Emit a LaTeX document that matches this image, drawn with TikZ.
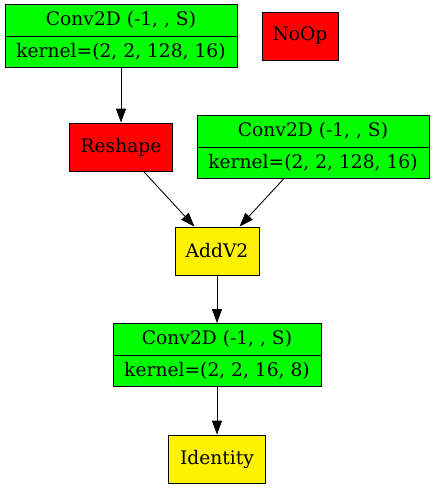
\documentclass[tikz,border=0pt]{standalone}
\usepackage{fontspec}
\setmainfont{DejaVu Serif}
\usetikzlibrary{arrows.meta,shapes.multipart}

\begin{document}
\begin{tikzpicture}[x=0.75pt,y=-0.75pt,>={Triangle[length=10.5pt,width=7.5pt]}]
    \tikzstyle{op}=[draw,rectangle,line width=0.65pt,minimum height=36pt,font=\fontsize{14}{17}\selectfont]
    \tikzstyle{rec}=[op,fill=green,rectangle split,rectangle split parts=2,minimum height=0pt,text height=10.5pt,text depth=3pt,inner ysep=4.9pt]
    \useasboundingbox (0,0) rectangle (435,489);

    \node[rec,minimum width=174pt] at (121,36) (conva) {Conv2D (-1, , S)\nodepart{two}kernel=(2, 2, 128, 16)};
    \node[op,fill=red,minimum width=57pt] at (300,36) (noop) {NoOp};
    \node[op,fill=red,minimum width=77.25pt] at (121,147) (reshape) {Reshape};
    \node[rec,minimum width=174pt] at (313,147) (convb) {Conv2D (-1, , S)\nodepart{two}kernel=(2, 2, 128, 16)};
    \node[op,fill=yellow,minimum width=63pt] at (217,251) (add) {AddV2};
    \node[rec,minimum width=156pt] at (217,355) (convc) {Conv2D (-1, , S)\nodepart{two}kernel=(2, 2, 16, 8)};
    \node[op,fill=yellow,minimum width=72.75pt] at (217,459) (ident) {Identity};

    \draw[->,line width=0.65pt] (conva) -- (reshape);
    \draw[->,line width=0.65pt] (reshape) -- (add);
    \draw[->,line width=0.65pt] (convb) -- (add);
    \draw[->,line width=0.65pt] (add) -- (convc);
    \draw[->,line width=0.65pt] (convc) -- (ident);
\end{tikzpicture}
\end{document}
